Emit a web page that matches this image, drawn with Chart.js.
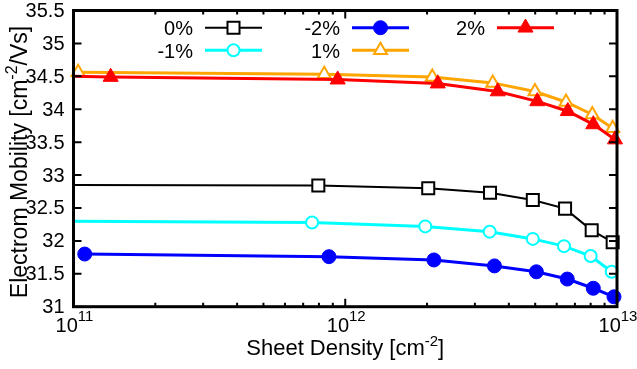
<!DOCTYPE html>
<html>
<head>
<meta charset="utf-8">
<script src="https://cdn.jsdelivr.net/npm/chart.js@4/dist/chart.umd.min.js"></script>
<style>
  html, body { margin: 0; padding: 0; background: #fff; }
</style>
</head>
<body>
<canvas id="mobilityChart" width="637" height="369"></canvas>
<script>
// series (sheet density in cm^-2, mobility)
var seriesLabels = ["0%", "-1%", "-2%", "1%", "2%"];
var seriesColors = ["#000000", "#00ffff", "#0000ff", "#ffa500", "#ff0000"];

var densityP0  = [1e11, 7.96e11, 2.02e12, 3.41e12, 4.90e12, 6.44e12, 8.07e12, 9.64e12];
var mobilityP0 = [32.85, 32.84, 32.80, 32.73, 32.62, 32.49, 32.16, 31.98];

var densityM1  = [1e11, 7.55e11, 1.97e12, 3.40e12, 4.90e12, 6.38e12, 8.00e12, 9.56e12];
var mobilityM1 = [32.30, 32.28, 32.22, 32.14, 32.03, 31.92, 31.77, 31.53];

var densityM2  = [1.10e11, 8.71e11, 2.12e12, 3.54e12, 5.05e12, 6.56e12, 8.18e12, 9.75e12];
var mobilityM2 = [31.80, 31.76, 31.71, 31.62, 31.53, 31.42, 31.28, 31.15];

var densityP1  = [1.04e11, 8.37e11, 2.09e12, 3.49e12, 4.99e12, 6.49e12, 8.11e12, 9.64e12];
var mobilityP1 = [34.56, 34.53, 34.49, 34.40, 34.27, 34.11, 33.92, 33.71];

var densityP2  = [1e11, 1.37e11, 9.38e11, 2.19e12, 3.64e12, 5.09e12, 6.59e12, 8.18e12, 9.83e12];
var mobilityP2 = [34.50, 34.49, 34.45, 34.39, 34.27, 34.12, 33.97, 33.77, 33.54];

var yTicks = [31, 31.5, 32, 32.5, 33, 33.5, 34, 34.5, 35, 35.5];
var yTickLabels = ["31", "31.5", "32", "32.5", "33", "33.5", "34", "34.5", "35", "35.5"];
var xMajorTicks = [1e11, 1e12, 1e13];
var xTickExponents = ["11", "12", "13"];

var FONT = "'Liberation Sans', Arial, sans-serif";

function makeSet(i, xs, ys, style, radius, filled, lineW, hideFirst, order) {
  return {
    label: seriesLabels[i],
    data: xs.map(function (x, k) { return { x: x, y: ys[k] }; }),
    borderColor: seriesColors[i],
    borderWidth: lineW,
    pointStyle: style,
    pointRadius: xs.map(function (x, k) { return hideFirst && k === 0 ? 0 : radius; }),
    pointBackgroundColor: filled ? seriesColors[i] : "#ffffff",
    pointBorderColor: seriesColors[i],
    pointBorderWidth: filled ? 1 : 2,
    tension: 0,
    clip: false,
    order: order,
    _filled: filled,
    _radius: radius
  };
}

// draws text made of plain and superscript pieces, starting at x
function pieceWidth(ctx, parts, size, supSize) {
  var w = 0;
  parts.forEach(function (p) {
    ctx.font = (p.sup ? supSize : size) + "px " + FONT;
    w += ctx.measureText(p.t).width;
  });
  return w;
}
function drawPieces(ctx, parts, x, y, size, supSize, rise) {
  parts.forEach(function (p) {
    ctx.font = (p.sup ? supSize : size) + "px " + FONT;
    ctx.fillText(p.t, x, p.sup ? y - rise : y);
    x += ctx.measureText(p.t).width;
  });
}

function legendMarker(ctx, style, r, x, y, filled, color) {
  ctx.beginPath();
  if (style === "rect") {
    var s = r * Math.SQRT1_2;
    ctx.rect(x - s, y - s, 2 * s, 2 * s);
  } else if (style === "circle") {
    ctx.arc(x, y, r, 0, Math.PI * 2);
  } else {
    for (var k = 0; k < 3; k++) {
      var a = k * 2 * Math.PI / 3;
      var px = x + Math.sin(a) * r, py = y - Math.cos(a) * r;
      if (k === 0) ctx.moveTo(px, py); else ctx.lineTo(px, py);
    }
    ctx.closePath();
  }
  ctx.fillStyle = filled ? color : "#ffffff";
  ctx.fill();
  ctx.strokeStyle = color;
  ctx.lineWidth = filled ? 1 : 2;
  ctx.stroke();
}

var gnuplotFrame = {
  id: "gnuplotFrame",
  afterDatasetsDraw: function (chart) {
    var ctx = chart.ctx, a = chart.chartArea;
    var xs = chart.scales.x, ys = chart.scales.y;
    ctx.save();
    ctx.strokeStyle = "#000";
    ctx.lineWidth = 2;
    ctx.beginPath();
    yTicks.forEach(function (v) {
      var py = ys.getPixelForValue(v);
      ctx.moveTo(a.left, py); ctx.lineTo(a.left + 8, py);
      ctx.moveTo(a.right, py); ctx.lineTo(a.right - 8, py);
    });
    xMajorTicks.forEach(function (v) {
      var px = xs.getPixelForValue(v);
      ctx.moveTo(px, a.bottom); ctx.lineTo(px, a.bottom - 8);
      ctx.moveTo(px, a.top); ctx.lineTo(px, a.top + 8);
    });
    [1e11, 1e12].forEach(function (d) {
      for (var m = 2; m <= 9; m++) {
        var px = xs.getPixelForValue(m * d);
        ctx.moveTo(px, a.bottom); ctx.lineTo(px, a.bottom - 4);
        ctx.moveTo(px, a.top); ctx.lineTo(px, a.top + 4);
      }
    });
    ctx.stroke();
    ctx.lineWidth = 3;
    ctx.strokeRect(a.left, a.top, a.right - a.left, a.bottom - a.top);
    ctx.restore();
  },
  afterDraw: function (chart) {
    var ctx = chart.ctx, a = chart.chartArea;
    var xs = chart.scales.x, ys = chart.scales.y;
    ctx.save();
    ctx.fillStyle = "#000";
    ctx.textBaseline = "middle";
    ctx.textAlign = "right";
    ctx.font = "20px " + FONT;
    yTicks.forEach(function (v, i) {
      ctx.fillText(yTickLabels[i], a.left - 9, ys.getPixelForValue(v) + 1);
    });

    ctx.textAlign = "left";
    ctx.textBaseline = "alphabetic";
    xMajorTicks.forEach(function (v, i) {
      var parts = [{ t: "10" }, { t: xTickExponents[i], sup: true }];
      var w = pieceWidth(ctx, parts, 20, 15);
      drawPieces(ctx, parts, xs.getPixelForValue(v) - w / 2 + 1, 332, 20, 15, 11);
    });

    var xt = [{ t: "Sheet Density [cm" }, { t: "-2", sup: true }, { t: "]" }];
    var xw = pieceWidth(ctx, xt, 22, 15);
    drawPieces(ctx, xt, (a.left + a.right) / 2 - xw / 2, 355, 22, 15, 9);

    var yt = [{ t: "Electrom Mobility [cm" }, { t: "-2", sup: true }, { t: "/Vs]" }];
    var yw = pieceWidth(ctx, yt, 23, 16);
    ctx.translate(27, 162);
    ctx.rotate(-Math.PI / 2);
    drawPieces(ctx, yt, -yw / 2, 0, 23, 16, 10);
    ctx.setTransform(1, 0, 0, 1, 0, 0);

    // key: two rows, filled column by column
    var colRight = [193, 340, 485], rowY = [27.7, 50.2];
    chart.data.datasets.forEach(function (ds, i) {
      var col = Math.floor(i / 2), row = i % 2;
      var y = rowY[row], tx = colRight[col];
      ctx.font = "20px " + FONT;
      ctx.textAlign = "right";
      ctx.fillStyle = "#000";
      ctx.fillText(ds.label, tx, y + 7.5);
      ctx.strokeStyle = ds.borderColor;
      ctx.lineWidth = ds.borderWidth;
      ctx.beginPath();
      ctx.moveTo(tx + 12, y); ctx.lineTo(tx + 69, y);
      ctx.stroke();
      legendMarker(ctx, ds.pointStyle, ds._radius, tx + 40.5, y, ds._filled, ds.borderColor);
    });
    ctx.restore();
  }
};

new Chart(document.getElementById("mobilityChart"), {
  type: "line",
  data: {
    datasets: [
      makeSet(0, densityP0, mobilityP0, "rect", 8.5, false, 2, true, 4),
      makeSet(1, densityM1, mobilityM1, "circle", 6, false, 3, true, 3),
      makeSet(2, densityM2, mobilityM2, "circle", 7, true, 3, false, 2),
      makeSet(3, densityP1, mobilityP1, "triangle", 7.5, false, 3, false, 1),
      makeSet(4, densityP2, mobilityP2, "triangle", 8.7, true, 3, true, 0)
    ]
  },
  options: {
    responsive: false,
    animation: false,
    layout: { padding: { left: 73.5, right: 20, top: 9, bottom: 62.3 } },
    plugins: { legend: { display: false }, tooltip: { enabled: false } },
    scales: {
      x: { type: "logarithmic", display: false, min: 1e11, max: 1e13 },
      y: { type: "linear", display: false, min: 31, max: 35.5 }
    }
  },
  plugins: [gnuplotFrame]
});
</script>
</body>
</html>
